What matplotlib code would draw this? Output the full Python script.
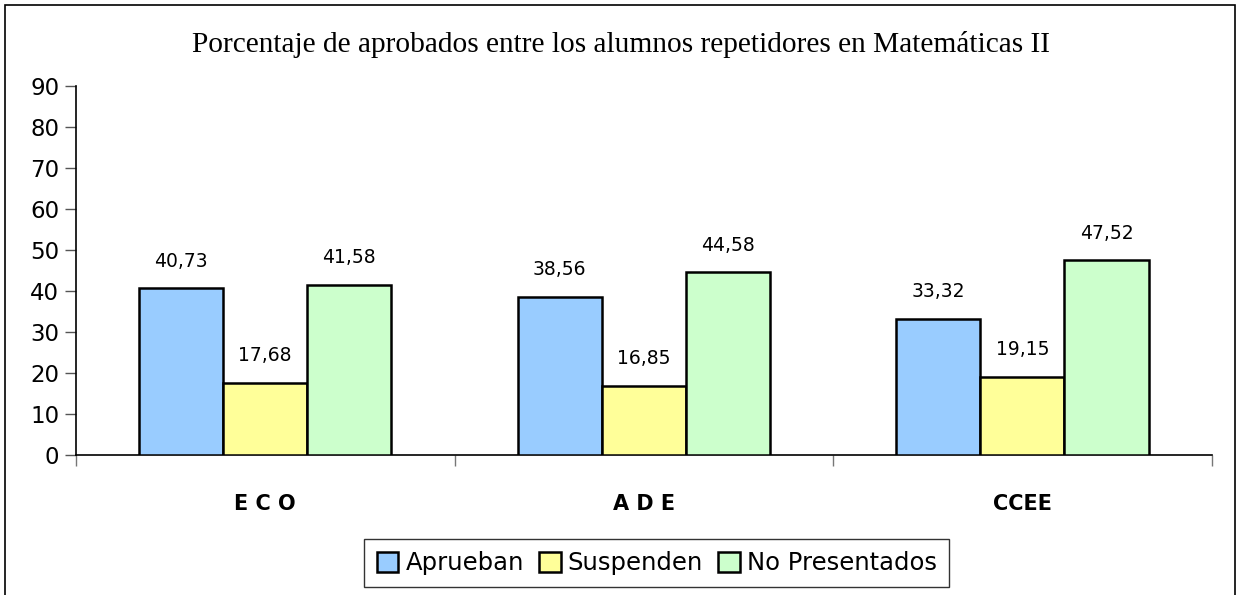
"""Porcentaje de aprobados entre los alumnos repetidores en Matemáticas II"""
import matplotlib
matplotlib.use("Agg")
import matplotlib.pyplot as plt
from matplotlib.patches import Rectangle
from matplotlib.ticker import FixedLocator
import numpy as np

# ───── Data ────────────────────────────────────────────────────────────────
categories = ["E C O", "A D E", "CCEE"]
series = ["Aprueban", "Suspenden", "No Presentados"]
aprueban = [40.73, 38.56, 33.32]
suspenden = [17.68, 16.85, 19.15]
no_presentados = [41.58, 44.58, 47.52]
yticks = [0, 10, 20, 30, 40, 50, 60, 70, 80, 90]

colors = ["#99CCFF", "#FFFF99", "#CCFFCC"]

# ───── Chart ───────────────────────────────────────────────────────────────
fig = plt.figure(figsize=(12.39, 5.95), dpi=100)
ax = fig.add_axes([0.0613, 0.235, 0.9167, 0.620])

x = np.arange(len(categories))
width = 0.222
for i, (vals, name, col) in enumerate(zip([aprueban, suspenden, no_presentados], series, colors)):
    pos = x + (i - 1) * width
    ax.bar(pos, vals, width, color=col, edgecolor="black", linewidth=1.8, label=name, zorder=3)
    for p, v in zip(pos, vals):
        ax.text(p, v + 4.3, f"{v:.2f}".replace(".", ","), ha="center", va="bottom",
                fontsize=13.5, family="DejaVu Sans")

ax.set_xlim(-0.5, len(categories) - 0.5)
ax.set_ylim(0, 90)
ax.set_yticks(yticks)
ax.tick_params(axis="y", labelsize=16.5, length=8, width=1, color="#555555", pad=4)
ax.set_xticks(x)
ax.set_xticklabels(categories, fontsize=15, fontweight="bold")
ax.tick_params(axis="x", which="major", length=0, pad=28)
ax.xaxis.set_minor_locator(FixedLocator(np.arange(len(categories) + 1) - 0.5))
ax.tick_params(axis="x", which="minor", length=8, width=1, color="#777777")

for s in ["top", "right"]:
    ax.spines[s].set_visible(False)
for s in ["left", "bottom"]:
    ax.spines[s].set_linewidth(1.2)

fig.text(0.501, 0.925, "Porcentaje de aprobados entre los alumnos repetidores en Matemáticas II",
         ha="center", va="center", fontsize=21.2, family="Liberation Serif")

leg = ax.legend(loc="center", bbox_to_anchor=(0.530, 0.0537), bbox_transform=fig.transFigure,
                ncol=3, frameon=True, fancybox=False, edgecolor="black", fontsize=17.5,
                handlelength=0.9, handleheight=0.9, handletextpad=0.3, columnspacing=0.6,
                borderpad=0.5)
leg.get_frame().set_linewidth(1)

# figure border
fig.patches.append(Rectangle((5 / 1239, -0.05), 1230 / 1239, 1.05 - 5 / 595,
                             transform=fig.transFigure, fill=False, edgecolor="black",
                             linewidth=1.2, clip_on=False))

fig.savefig("out.png", dpi=100)
